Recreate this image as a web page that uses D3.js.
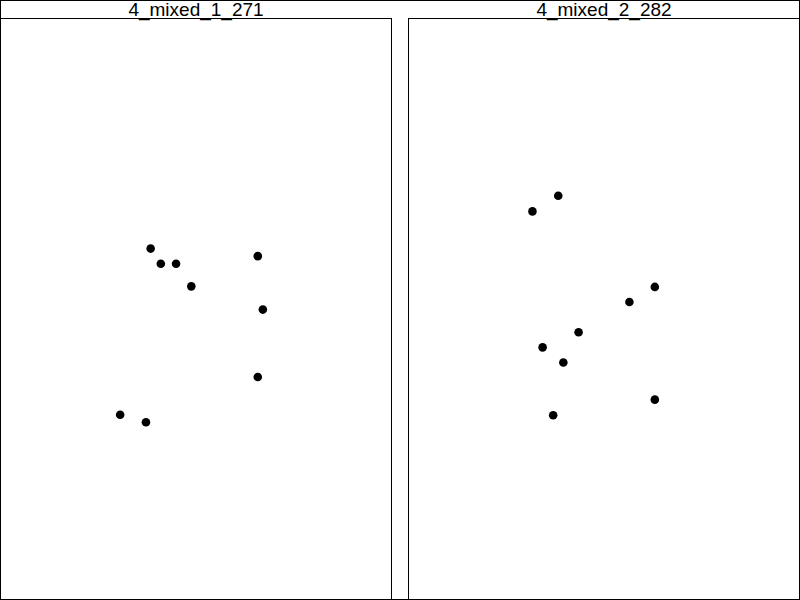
<!DOCTYPE html>
<html lang="en">
<head>
  <meta charset="UTF-8" />
  <title>Mixed panels</title>
  <script src="https://d3js.org/d3.v7.min.js"></script>
  <style>
    body { margin: 0; background: #fff; }
    svg { display: block; }
    .frame { fill: none; stroke: #000; stroke-width: 1; }
    .title { font-family: "Liberation Sans", Arial, sans-serif; font-size: 19px; fill: #000; }
  </style>
</head>
<body>
  <svg width="800" height="600"></svg>
  <script>
    // panel titles
    const panelNames = ["4_mixed_1_271", "4_mixed_2_282"];

    // point values per panel (x, y in 0..100 units)
    const xs1 = [38.4, 41.0, 44.9, 48.8, 65.8, 67.1, 65.8, 30.6, 37.2];
    const ys1 = [60.4, 57.8, 57.8, 53.9, 59.1, 49.9, 38.3, 31.8, 30.5];
    const xs2 = [38.3, 31.7, 63.0, 56.5, 43.5, 34.3, 39.6, 63.0, 37.0];
    const ys2 = [69.5, 66.8, 53.8, 51.2, 46.0, 43.4, 40.8, 34.4, 31.7];

    const panels = [
      { name: panelNames[0], xs: xs1, ys: ys1 },
      { name: panelNames[1], xs: xs2, ys: ys2 }
    ];

    const svg = d3.select("svg");
    const width = 800, height = 600;
    const plotTop = 18.5, plotBottom = 599.5;
    const panelW = 391, gap = 17;

    // outer frame
    svg.append("rect").attr("class", "frame")
      .attr("x", 0.5).attr("y", 0.5)
      .attr("width", width - 1).attr("height", height - 1);

    panels.forEach((p, i) => {
      const x0 = 0.5 + i * (panelW + gap);
      const x1 = i === 0 ? x0 + panelW : width - 0.5;

      const x = d3.scaleLinear().domain([0, 100]).range([x0, x1]);
      const y = d3.scaleLinear().domain([0, 100]).range([plotBottom, plotTop]);

      const g = svg.append("g");

      g.append("rect").attr("class", "frame")
        .attr("x", x0).attr("y", plotTop)
        .attr("width", x1 - x0).attr("height", plotBottom - plotTop);

      g.append("text").attr("class", "title")
        .attr("x", (x0 + x1) / 2).attr("y", 15.5)
        .attr("text-anchor", "middle")
        .text(p.name);

      g.selectAll("circle")
        .data(d3.zip(p.xs, p.ys))
        .join("circle")
        .attr("cx", d => x(d[0]))
        .attr("cy", d => y(d[1]))
        .attr("r", 4.3)
        .attr("fill", "#000");
    });
  </script>
</body>
</html>
